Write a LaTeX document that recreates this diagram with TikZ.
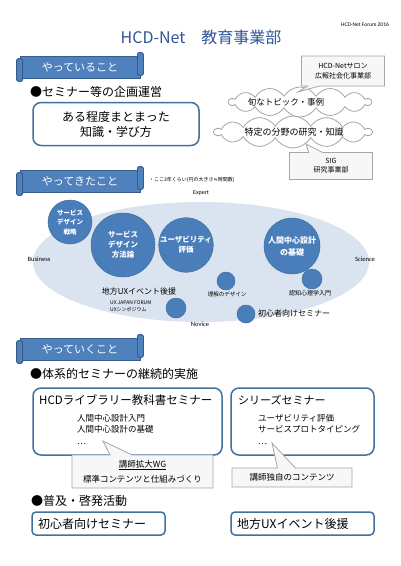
\documentclass[tikz,border=0pt]{standalone}
\usepackage{fontspec}
\setmainfont{Noto Sans CJK JP}
\newfontfamily\lat{Carlito}
\newfontfamily\symfont{DejaVu Sans}
\usetikzlibrary{shapes.geometric,shapes.symbols,shapes.callouts}
\definecolor{bannerfill}{HTML}{4F81BD}
\definecolor{bannerline}{HTML}{385D8A}
\definecolor{boxline}{HTML}{41719C}
\definecolor{fieldfill}{HTML}{DAE3F0}
\definecolor{circfill}{HTML}{4A7EBB}
\definecolor{calloutfill}{HTML}{F7F7F7}
\definecolor{grayline}{HTML}{A6A6A6}
\definecolor{titleblue}{HTML}{2F5597}
\newcommand\fs[2]{\fontsize{#1}{#2}\selectfont}
\tikzset{
 banner/.style={fill=bannerfill, draw=bannerline, line width=0.8pt, minimum width=120pt, minimum height=22pt, text=white, font=\fs{11}{13}, inner sep=0pt},
 roll/.style={fill=bannerfill, draw=bannerline, line width=0.8pt, rounded corners=1.5pt},
 bluebox/.style={draw=boxline, line width=1.5pt, rounded corners=8pt, fill=white},
 smallbox/.style={draw=boxline, line width=1.5pt, rounded corners=4pt, fill=white, minimum height=23pt, inner sep=0pt},
 bubble/.style={circle, fill=circfill, draw=boxline, line width=0.5pt, text=white, font=\bfseries\fs{7.5}{10}, align=center, inner sep=0pt},
 dot/.style={circle, fill=circfill, draw=boxline, line width=0.5pt, inner sep=0pt},
 cloudy/.style={cloud, cloud puffs=14, cloud puff arc=120, cloud ignores aspect, draw=grayline, fill=white, line width=0.8pt, inner sep=0pt},
 note/.style={rectangle callout, draw=grayline, fill=calloutfill, line width=0.8pt, inner sep=0pt, align=center},
 txt/.style={inner sep=0pt, anchor=west},
}
\newcommand\mybanner[3]{%
 \node[banner] (#1) at (#2) {#3};
 \draw[roll] ([xshift=-3pt,yshift=-3pt]#1.north west) rectangle ([xshift=3pt,yshift=-3pt]#1.south west);
 \draw[roll] ([xshift=-3pt,yshift=3pt]#1.north east) rectangle ([xshift=3pt,yshift=3pt]#1.south east);
}
\begin{document}
\begin{tikzpicture}[x=1pt,y=-1pt]
\fill[white] (0,0) rectangle (400,566);
\useasboundingbox (0,0) rectangle (400,566);

\node[font=\fs{16}{18}, text=titleblue] (title) at (201,37) {HCD-Net\hspace{1em}教育事業部};
\node[font=\lat\fs{5.5}{6}] (forum) at (365,25) {HCD-Net Forum 2016};

% section 1
\mybanner{b1}{80,67}{やっていること}
\node[txt, font=\fs{12}{14}] (h1) at (30,92) {●セミナー等の企画運営};
\node[bluebox, minimum width=166pt, minimum height=43pt, align=center, font=\fs{12}{15}] (k1) at (116,124) {ある程度まとまった\\知識・学び方};

\node[cloudy, minimum width=142pt, minimum height=30pt] (c1) at (300,102) {};
\node[font=\fs{8.5}{10}] (c1t) at (286,102) {旬なトピック・事例};
\node[cloudy, minimum width=157pt, minimum height=32pt] (c2) at (293,132) {};
\node[font=\fs{9}{10}] (c2t) at (294,132) {特定の分野の研究・知識};

\coordinate (p1) at (298,92);
\node[note, minimum width=83pt, minimum height=30pt, font=\fs{7}{9.5}, callout absolute pointer={(p1)}, callout pointer width=12pt] (n1) at (343,71) {HCD-Netサロン\\広報社会化事業部};
\coordinate (p2) at (306,144);
\node[note, minimum width=83pt, minimum height=27pt, font=\fs{7}{9}, callout absolute pointer={(p2)}, callout pointer width=14pt] (n2) at (331,166) {SIG\\研究事業部};

% section 2
\mybanner{b2}{80,181}{やってきたこと}
\node[txt, font=\fs{5}{6}] (fn) at (149,180) {・ここ3年くらい(円の大きさ{\symfont ≒}時間数)};
\node[font=\lat\fs{6}{7}] (expert) at (201,193) {Expert};
\node[ellipse, fill=fieldfill, minimum width=336pt, minimum height=120pt, inner sep=0pt] (field) at (201,262) {};
\node[font=\lat\fs{6.5}{7}] (bus) at (39,259) {Business};
\node[font=\lat\fs{6.5}{7}] (sci) at (365,259) {Science};
\node[font=\lat\fs{6.5}{7}] (nov) at (200,324) {Novice};

\node[bubble, minimum size=44pt, font=\bfseries\fs{6.5}{9.5}] (s1) at (70,222) {サービス\\デザイン\\戦略};
\node[bubble, minimum size=64pt] (s2) at (123,245) {サービス\\デザイン\\方法論};
\node[bubble, minimum size=54pt] (s3) at (186,245) {ユーザビリティ\\評価};
\node[bubble, minimum size=56pt, font=\bfseries\fs{8}{12}] (s4) at (292,246) {人間中心設計\\の基礎};
\node[dot, minimum size=18pt] (d1) at (226,281) {};
\node[dot, minimum size=20pt] (d2) at (312,279) {};
\node[dot, minimum size=20pt] (d3) at (176,308) {};
\node[dot, minimum size=18pt] (d4) at (246,314) {};

\node[font=\fs{5.5}{6}] (l1) at (227,294) {理解のデザイン};
\node[font=\fs{6}{7}] (l2) at (310,293) {認知心理学入門};
\node[font=\fs{8}{9}] (l3) at (139,291) {地方UXイベント後援};
\node[txt, font=\fs{5}{7.5}, align=left] (l4) at (110,306) {UX JAPAN FORUM\\UXシンポジウム};
\node[txt, font=\fs{8}{9}] (l5) at (258,313) {初心者向けセミナー};

% section 3
\mybanner{b3}{80,349}{やっていくこと}
\node[txt, font=\fs{12}{14}] (h2) at (30,374) {●体系的セミナーの継続的実施};

\node[bluebox, minimum width=189pt, minimum height=67pt] (lib) at (127.5,421.5) {};
\node[txt, font=\fs{11.5}{13}] (libt) at (39,400) {HCDライブラリー教科書セミナー};
\node[txt, font=\fs{8.5}{11.5}, align=left] (libi) at (77,429) {人間中心設計入門\\人間中心設計の基礎\\…};
\node[bluebox, minimum width=143pt, minimum height=67pt] (ser) at (302.5,421.5) {};
\node[txt, font=\fs{11}{13}] (sert) at (238,400) {シリーズセミナー};
\node[txt, font=\fs{8.5}{11.5}, align=left] (seri) at (258,429) {ユーザビリティ評価\\サービスプロトタイピング\\…};

\coordinate (p3) at (103,441);
\node[note, minimum width=141pt, minimum height=33pt, font=\fs{8.5}{15}, callout absolute pointer={(p3)}, callout pointer width=22pt] (n3) at (142.5,471.5) {\underline{講師拡大WG}\\標準コンテンツと仕組みづくり};
\coordinate (p4) at (272,443);
\node[note, minimum width=120pt, minimum height=19pt, font=\fs{8.5}{10}, callout absolute pointer={(p4)}, callout pointer width=18pt] (n4) at (292,477.5) {講師独自のコンテンツ};

\node[txt, font=\fs{12}{14}] (h3) at (31,501) {●普及・啓発活動};
\node[smallbox, minimum width=133pt] (bx1) at (98.5,523.5) {};
\node[txt, font=\fs{12}{14}] (bx1t) at (38,523.5) {初心者向けセミナー};
\node[smallbox, minimum width=143pt] (bx2) at (302.5,523.5) {};
\node[txt, font=\fs{12}{14}] (bx2t) at (237,523.5) {地方UXイベント後援};
\end{tikzpicture}
\end{document}
